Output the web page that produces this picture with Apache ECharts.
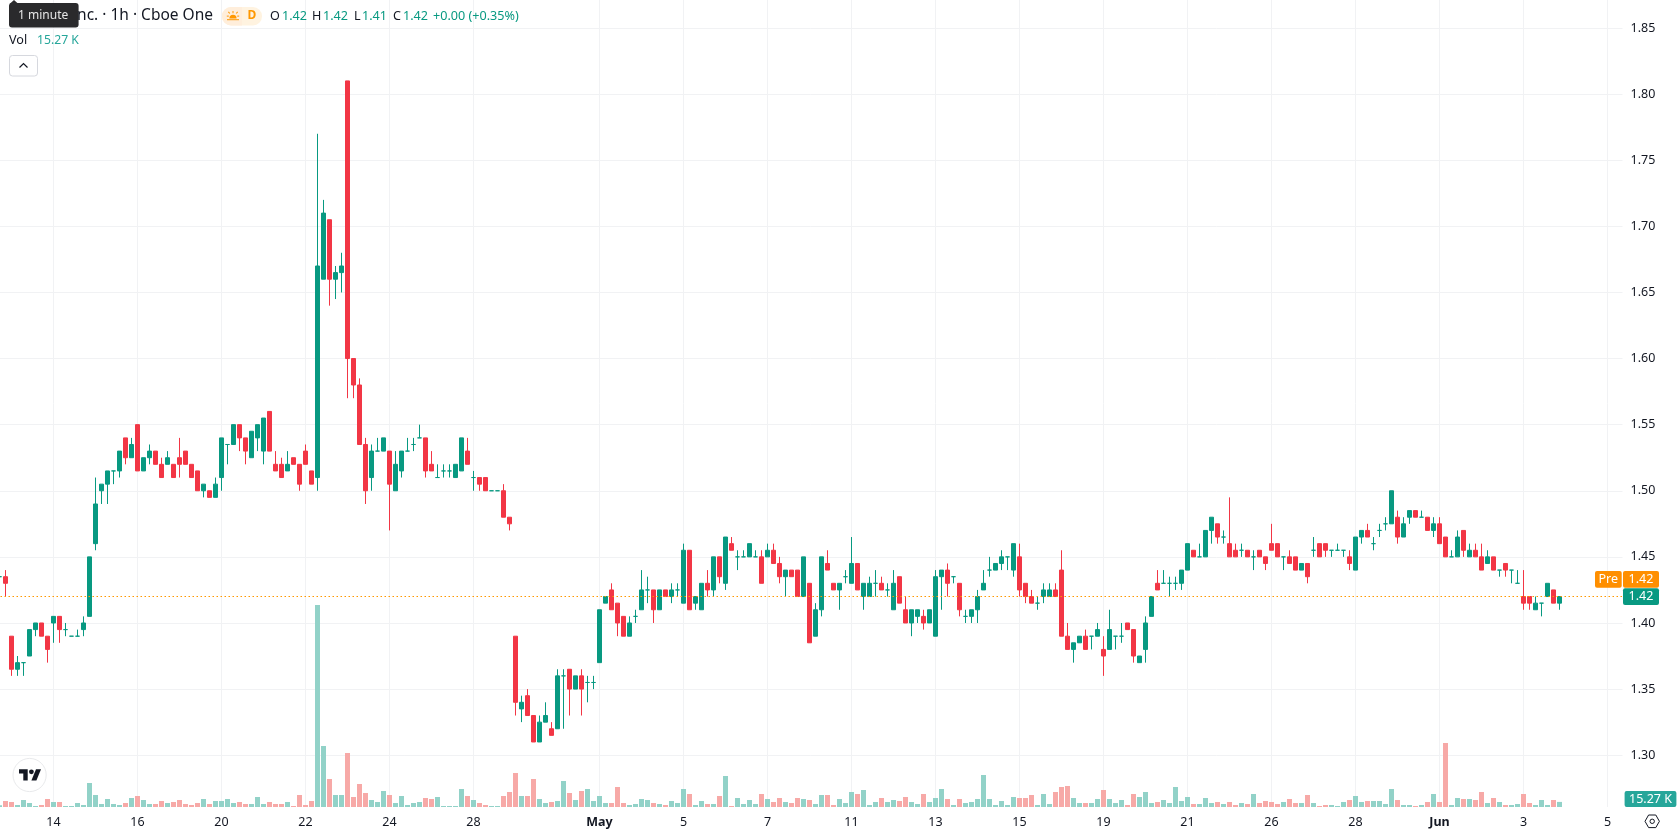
<!DOCTYPE html>
<html>
<head>
<meta charset="utf-8">
<title>1h candlestick chart</title>
<script src="https://cdn.jsdelivr.net/npm/echarts@6/dist/echarts.min.js"></script>
<style>
  html, body { margin: 0; padding: 0; background: #fff; overflow: hidden; }
  #chart { width: 1678px; height: 835px; }
</style>
</head>
<body>
<div id="chart"></div>
<script>
// Hourly bars, oldest first.
const opens = [
  1.435,1.435,1.39,1.365,1.37,1.375,1.395,1.40,1.39,1.40,
  1.405,1.395,1.39,1.39,1.395,1.405,1.46,1.50,1.505,1.515,
  1.515,1.54,1.525,1.55,1.515,1.525,1.53,1.52,1.52,1.52,
  1.525,1.53,1.52,1.515,1.50,1.50,1.495,1.51,1.535,1.535,
  1.55,1.54,1.525,1.54,1.53,1.56,1.52,1.52,1.515,1.525,
  1.52,1.53,1.515,1.51,1.66,1.705,1.66,1.665,1.81,1.60,
  1.58,1.535,1.51,1.53,1.53,1.53,1.50,1.515,1.53,1.535,
  1.54,1.54,1.52,1.51,1.515,1.515,1.51,1.515,1.53,1.51,
  1.51,1.51,1.50,1.50,1.50,1.48,1.39,1.335,1.345,1.33,
  1.31,1.325,1.32,1.32,1.36,1.365,1.35,1.36,1.355,1.355,
  1.37,1.415,1.425,1.415,1.405,1.39,1.405,1.41,1.425,1.425,
  1.41,1.425,1.42,1.425,1.415,1.455,1.415,1.41,1.43,1.425,
  1.45,1.43,1.46,1.45,1.45,1.45,1.45,1.45,1.45,1.455,
  1.445,1.435,1.44,1.44,1.42,1.43,1.39,1.41,1.445,1.43,
  1.425,1.435,1.43,1.445,1.42,1.42,1.43,1.43,1.425,1.41,
  1.435,1.41,1.40,1.405,1.405,1.40,1.39,1.435,1.44,1.435,
  1.43,1.405,1.405,1.41,1.425,1.44,1.44,1.445,1.45,1.44,
  1.45,1.43,1.42,1.415,1.42,1.42,1.425,1.44,1.39,1.38,
  1.385,1.39,1.39,1.39,1.38,1.38,1.39,1.39,1.40,1.395,
  1.37,1.38,1.405,1.43,1.43,1.43,1.43,1.43,1.44,1.455,
  1.45,1.45,1.47,1.475,1.465,1.46,1.455,1.455,1.455,1.45,
  1.455,1.45,1.46,1.46,1.45,1.45,1.45,1.44,1.445,1.455,
  1.46,1.46,1.455,1.455,1.455,1.45,1.44,1.465,1.47,1.46,
  1.47,1.475,1.475,1.48,1.465,1.48,1.485,1.48,1.48,1.47,
  1.475,1.465,1.45,1.45,1.47,1.45,1.455,1.45,1.445,1.45,
  1.44,1.445,1.44,1.43,1.42,1.42,1.41,1.415,1.42,1.425,1.415
];
const closes = [
  1.435,1.43,1.365,1.37,1.37,1.395,1.40,1.39,1.38,1.405,
  1.395,1.395,1.39,1.39,1.40,1.45,1.49,1.505,1.515,1.515,
  1.53,1.525,1.535,1.515,1.525,1.53,1.52,1.51,1.525,1.51,
  1.52,1.52,1.51,1.50,1.505,1.495,1.505,1.54,1.535,1.55,
  1.54,1.53,1.545,1.55,1.555,1.53,1.515,1.51,1.52,1.52,
  1.505,1.52,1.505,1.67,1.71,1.66,1.665,1.67,1.60,1.58,
  1.535,1.50,1.53,1.53,1.54,1.505,1.52,1.53,1.53,1.535,
  1.54,1.515,1.515,1.51,1.515,1.515,1.52,1.54,1.52,1.51,
  1.505,1.50,1.50,1.50,1.48,1.475,1.34,1.34,1.33,1.31,
  1.325,1.33,1.315,1.36,1.36,1.35,1.36,1.35,1.355,1.355,
  1.41,1.42,1.41,1.40,1.39,1.40,1.405,1.425,1.425,1.41,
  1.425,1.42,1.425,1.425,1.455,1.41,1.42,1.43,1.425,1.45,
  1.435,1.465,1.455,1.45,1.45,1.46,1.45,1.43,1.455,1.445,
  1.435,1.44,1.435,1.42,1.45,1.385,1.41,1.45,1.44,1.425,
  1.43,1.435,1.445,1.425,1.43,1.43,1.43,1.425,1.425,1.43,
  1.415,1.40,1.41,1.41,1.40,1.41,1.435,1.44,1.43,1.435,
  1.41,1.405,1.41,1.42,1.43,1.44,1.445,1.45,1.45,1.46,
  1.425,1.42,1.415,1.415,1.425,1.425,1.42,1.39,1.38,1.385,
  1.39,1.38,1.39,1.395,1.375,1.395,1.39,1.39,1.395,1.375,
  1.375,1.40,1.42,1.425,1.43,1.43,1.43,1.44,1.46,1.45,
  1.45,1.47,1.48,1.465,1.465,1.45,1.45,1.455,1.45,1.45,
  1.45,1.445,1.455,1.45,1.45,1.445,1.44,1.445,1.435,1.455,
  1.45,1.455,1.455,1.455,1.455,1.445,1.465,1.47,1.465,1.46,
  1.47,1.475,1.50,1.465,1.475,1.485,1.48,1.48,1.47,1.475,
  1.46,1.45,1.45,1.465,1.455,1.455,1.45,1.44,1.45,1.44,
  1.44,1.44,1.44,1.43,1.415,1.415,1.415,1.415,1.43,1.415,1.42
];
const highs = [
  1.435,1.44,1.39,1.375,1.37,1.395,1.40,1.40,1.39,1.405,
  1.405,1.40,1.39,1.395,1.405,1.45,1.51,1.505,1.515,1.515,
  1.53,1.54,1.54,1.55,1.525,1.535,1.53,1.525,1.53,1.52,
  1.54,1.53,1.52,1.515,1.505,1.50,1.51,1.54,1.535,1.55,
  1.55,1.54,1.545,1.55,1.555,1.56,1.53,1.525,1.53,1.525,
  1.52,1.535,1.515,1.77,1.72,1.705,1.67,1.68,1.81,1.60,
  1.585,1.54,1.535,1.54,1.54,1.53,1.53,1.53,1.54,1.54,
  1.55,1.54,1.53,1.52,1.52,1.52,1.52,1.54,1.54,1.515,
  1.51,1.51,1.50,1.50,1.505,1.48,1.39,1.345,1.35,1.33,
  1.33,1.34,1.325,1.365,1.365,1.365,1.36,1.365,1.36,1.36,
  1.41,1.42,1.43,1.415,1.405,1.405,1.41,1.44,1.435,1.425,
  1.425,1.425,1.43,1.43,1.46,1.455,1.42,1.43,1.44,1.45,
  1.45,1.465,1.465,1.455,1.455,1.46,1.455,1.455,1.46,1.46,
  1.45,1.44,1.44,1.44,1.45,1.43,1.415,1.45,1.455,1.43,
  1.43,1.44,1.465,1.445,1.43,1.435,1.44,1.435,1.43,1.44,
  1.435,1.42,1.41,1.41,1.41,1.41,1.44,1.44,1.445,1.435,
  1.43,1.41,1.41,1.425,1.44,1.45,1.445,1.455,1.45,1.46,
  1.46,1.43,1.425,1.42,1.43,1.43,1.43,1.455,1.40,1.385,
  1.39,1.395,1.39,1.40,1.39,1.41,1.39,1.40,1.40,1.395,
  1.375,1.405,1.42,1.44,1.44,1.435,1.435,1.44,1.46,1.455,
  1.46,1.47,1.48,1.475,1.47,1.495,1.46,1.46,1.455,1.455,
  1.455,1.45,1.475,1.46,1.45,1.455,1.45,1.445,1.445,1.465,
  1.46,1.46,1.455,1.46,1.455,1.455,1.465,1.47,1.475,1.465,
  1.475,1.48,1.50,1.485,1.48,1.485,1.485,1.485,1.48,1.48,
  1.48,1.465,1.455,1.47,1.47,1.46,1.46,1.46,1.455,1.45,
  1.44,1.445,1.44,1.44,1.44,1.42,1.42,1.415,1.43,1.425,1.42
];
const lows = [
  1.435,1.42,1.36,1.36,1.36,1.375,1.39,1.39,1.37,1.385,
  1.385,1.39,1.39,1.39,1.39,1.405,1.455,1.49,1.49,1.505,
  1.51,1.52,1.525,1.515,1.515,1.52,1.52,1.51,1.52,1.51,
  1.51,1.52,1.51,1.50,1.495,1.495,1.495,1.50,1.52,1.535,
  1.53,1.52,1.525,1.53,1.52,1.53,1.515,1.51,1.515,1.52,
  1.50,1.52,1.505,1.50,1.66,1.64,1.645,1.65,1.57,1.57,
  1.535,1.49,1.50,1.53,1.53,1.47,1.50,1.51,1.53,1.53,
  1.54,1.51,1.515,1.51,1.51,1.51,1.51,1.515,1.52,1.50,
  1.50,1.50,1.50,1.50,1.48,1.47,1.33,1.325,1.33,1.31,
  1.31,1.325,1.315,1.32,1.32,1.33,1.35,1.33,1.34,1.35,
  1.37,1.415,1.41,1.39,1.39,1.39,1.40,1.41,1.415,1.40,
  1.41,1.42,1.415,1.42,1.415,1.41,1.41,1.41,1.42,1.42,
  1.43,1.425,1.455,1.44,1.45,1.45,1.45,1.43,1.45,1.445,
  1.43,1.42,1.435,1.42,1.42,1.385,1.39,1.405,1.44,1.425,
  1.41,1.43,1.43,1.425,1.41,1.42,1.42,1.425,1.42,1.41,
  1.415,1.40,1.39,1.40,1.395,1.40,1.39,1.41,1.42,1.43,
  1.405,1.40,1.40,1.40,1.425,1.435,1.44,1.44,1.44,1.435,
  1.42,1.415,1.415,1.41,1.415,1.42,1.42,1.39,1.38,1.37,
  1.385,1.38,1.38,1.39,1.36,1.38,1.38,1.385,1.395,1.37,
  1.37,1.37,1.405,1.425,1.43,1.42,1.425,1.425,1.44,1.45,
  1.45,1.45,1.46,1.46,1.46,1.45,1.45,1.45,1.45,1.44,
  1.45,1.44,1.455,1.45,1.44,1.445,1.44,1.44,1.43,1.45,
  1.45,1.45,1.45,1.455,1.45,1.44,1.44,1.46,1.465,1.455,
  1.465,1.47,1.475,1.46,1.465,1.475,1.48,1.48,1.47,1.465,
  1.46,1.45,1.45,1.45,1.45,1.45,1.45,1.44,1.445,1.44,
  1.435,1.435,1.43,1.43,1.41,1.41,1.41,1.405,1.42,1.415,1.41
];
// Volume per bar, thousands of shares.
const volumes = [
  5,18,15,6,21,12,3,6,24,15,
  15,3,3,12,6,72,36,9,24,9,
  6,12,27,33,21,9,9,18,12,15,
  21,9,6,12,24,9,18,18,24,12,
  15,9,9,30,9,15,9,9,15,3,
  36,6,18,606,183,84,36,36,162,30,
  69,42,21,15,48,36,12,33,6,12,
  15,27,24,30,3,3,3,54,33,21,
  12,6,3,3,33,45,102,33,33,84,
  24,12,15,18,78,42,21,48,54,18,
  33,12,12,60,12,6,9,24,21,12,
  9,6,18,12,54,39,6,18,9,9,
  33,93,3,27,9,21,9,39,24,15,
  27,15,12,27,24,21,9,36,36,6,
  24,12,45,39,51,6,15,27,15,21,
  18,30,15,9,39,15,27,54,24,6,
  24,12,15,24,96,24,6,18,6,30,
  27,27,36,6,39,9,45,60,63,27,
  12,12,12,24,51,24,12,21,6,39,
  30,45,12,15,21,12,60,18,30,9,
  9,27,12,15,9,15,6,12,9,39,
  12,18,15,9,15,24,12,12,36,12,
  3,6,6,3,15,21,33,15,18,18,
  18,9,54,21,6,6,3,6,15,39,
  15,192,6,27,24,24,21,45,12,27,
  15,6,6,9,39,12,6,21,6,21,15.27
];
// Date labels on the time axis and the bar slot each one belongs to.
const tickLabels = ['14','16','20','22','24','28','May','5','7','11','13','15','19','21','26','28','Jun','3','5'];
const tickSlots  = [9,23,37,51,65,79,100,114,128,142,156,170,184,198,212,226,240,254,268];
const monthLabels = ['May', 'Jun'];
const slotCount = 271;
const priceTicks = { min: 1.25, max: 1.90, step: 0.05 };
const lastPrice = closes[closes.length - 1];
const prePrice = 1.42;

const UP = '#089981', DOWN = '#F23645';
const UP_SOFT = '#92d2c8', DOWN_SOFT = '#f7a9a7';
const GRID = '#f1f2f4', INK = '#131722', FONT = '"Noto Sans", sans-serif';

const categories = Array.from({ length: slotCount }, (_, i) => {
  const at = tickSlots.indexOf(i);
  return at >= 0 ? tickLabels[at] : '';
});
const isLabelled = (i, v) => v !== '';

const chart = echarts.init(document.getElementById('chart'), null, { renderer: 'canvas' });

chart.setOption({
  animation: false,
  backgroundColor: '#ffffff',
  grid: [
    { left: -3.5, width: 1626, top: -38.1, height: 859.4, containLabel: false, outerBoundsMode: 'none' },
    { left: -3.5, width: 1626, top: 0, height: 807, containLabel: false, outerBoundsMode: 'none' }
  ],
  xAxis: [
    {
      type: 'category', gridIndex: 0, data: categories, show: false,
      axisLine: { show: false }, axisTick: { show: false }, splitLine: { show: false }
    },
    {
      type: 'category', gridIndex: 1, data: categories,
      axisLine: { show: false },
      axisTick: { show: false },
      splitLine: {
        show: true, interval: isLabelled, alignWithLabel: true,
        lineStyle: { color: GRID, width: 1 }
      },
      axisLabel: {
        interval: isLabelled, margin: 9, color: INK, fontFamily: FONT, fontSize: 12.5,
        formatter: v => monthLabels.includes(v) ? '{m|' + v + '}' : v,
        rich: { m: { fontFamily: FONT, fontSize: 12.5, fontWeight: 'bold', color: INK } }
      }
    }
  ],
  yAxis: [
    {
      type: 'value', gridIndex: 0, position: 'right',
      min: priceTicks.min, max: priceTicks.max, interval: priceTicks.step,
      axisLine: { show: false }, axisTick: { show: false },
      splitLine: { show: true, showMinLine: false, showMaxLine: false, lineStyle: { color: GRID, width: 1 } },
      axisLabel: {
        margin: 8, color: INK, fontFamily: FONT, fontSize: 12.5, align: 'left',
        showMinLabel: false, showMaxLabel: false,
        formatter: v => v.toFixed(2)
      }
    },
    {
      type: 'value', gridIndex: 1, min: 0, max: 2421, show: false,
      axisLine: { show: false }, axisTick: { show: false }, splitLine: { show: false }
    }
  ],
  series: [
    {
      name: 'Vol', type: 'bar', xAxisIndex: 1, yAxisIndex: 1, barWidth: 5, z: 2, silent: true,
      data: volumes,
      itemStyle: { color: p => closes[p.dataIndex] < opens[p.dataIndex] ? DOWN_SOFT : UP_SOFT }
    },
    {
      name: 'Price', type: 'candlestick', xAxisIndex: 0, yAxisIndex: 0, barWidth: 4, z: 3, silent: true,
      clip: false,
      data: opens.map((o, i) => [o, closes[i], lows[i], highs[i]]),
      itemStyle: {
        color: UP, color0: DOWN, borderColor: UP, borderColor0: DOWN,
        borderColorDoji: UP, borderWidth: 1
      },
      markLine: {
        silent: true, symbol: 'none', animation: false,
        label: { show: false },
        lineStyle: { color: '#ff9800', width: 1, type: [1.5, 2.5], opacity: 1 },
        data: [{ yAxis: lastPrice }]
      }
    }
  ]
});

// Chart furniture: header text, price tags, logo and the settings glyph.
const txt = (text, x, y, fill, size, extra) => ({
  type: 'text', z: 20, silent: true,
  style: Object.assign({ text, x, y, fill, font: size + 'px ' + FONT, align: 'left', verticalAlign: 'middle' }, extra || {})
});
const box = (x, y, width, height, fill, r, extra) => ({
  type: 'rect', z: 19, silent: true,
  shape: { x, y, width, height, r: r || 0 },
  style: Object.assign({ fill }, extra || {})
});
const poly = (points, fill) => ({ type: 'polygon', z: 20, silent: true, shape: { points }, style: { fill } });

const yLast = chart.convertToPixel({ yAxisIndex: 0 }, lastPrice);
const yPre = chart.convertToPixel({ yAxisIndex: 0 }, prePrice);
const volBase = chart.convertToPixel({ yAxisIndex: 1 }, 0);
const fmtVol = v => v.toFixed(2) + ' K';
const lastVol = volumes[volumes.length - 1];

chart.setOption({
  graphic: [
    txt('nc. · 1h · Cboe One', 213, 16, INK, 15.5, { align: 'right' }),
    box(9, 3, 69.6, 24.5, '#2a2a2c', 3, {}),
    { type: 'polygon', z: 19, silent: true, shape: { points: [[9.5, 4], [14, 0], [18.5, 4]] }, style: { fill: '#2a2a2c' } },
    Object.assign(txt('1 minute', 18, 15.5, '#e6e6e6', 12), { z: 21 }),

    box(222, 7, 40, 18.5, '#fff3e0', [9, 9, 9, 9]),
    box(222, 7, 20, 18.5, '#ffeedb', [9, 0, 0, 9]),
    // Pre-market sun glyph
    { type: 'sector', z: 20, silent: true, shape: { cx: 233, cy: 18.4, r: 3.6, r0: 0, startAngle: Math.PI, endAngle: 2 * Math.PI }, style: { fill: '#ff9800' } },
    Object.assign(box(227, 19.2, 12, 1, '#ff9800'), { z: 20 }),
    Object.assign(box(232.5, 11, 1, 2.2, '#ff9800'), { z: 20 }),
    Object.assign(box(226.8, 15.6, 2, 1, '#ff9800'), { z: 20 }),
    Object.assign(box(237.2, 15.6, 2, 1, '#ff9800'), { z: 20 }),
    poly([[228, 12.2], [228.8, 11.6], [230.2, 13.2], [229.4, 13.8]], '#ff9800'),
    poly([[238, 12.2], [237.2, 11.6], [235.8, 13.2], [236.6, 13.8]], '#ff9800'),
    txt('D', 247.5, 16, '#ff9800', 12, { font: 'bold 12px ' + FONT }),

    txt('O', 270, 16, INK, 12.6), txt('1.42', 282, 16, UP, 12.6),
    txt('H', 312, 16, INK, 12.6), txt('1.42', 323, 16, UP, 12.6),
    txt('L', 354, 16, INK, 12.6), txt('1.41', 362, 16, UP, 12.6),
    txt('C', 393, 16, INK, 12.6), txt('1.42', 403, 16, UP, 12.6),
    txt('+0.00 (+0.35%)', 433, 16, UP, 12.6),

    txt('Vol', 9, 40.5, INK, 12.6),
    txt(fmtVol(lastVol), 37, 40.5, '#26a69a', 12.2),

    box(9.5, 55.5, 28, 20.5, '#ffffff', 3, { stroke: '#d6d8de', lineWidth: 1 }),
    {
      type: 'polyline', z: 20, silent: true,
      shape: { points: [[19.5, 67.5], [23.5, 63.5], [27.5, 67.5]] },
      style: { stroke: INK, lineWidth: 1.2, fill: null }
    },

    // Price tags
    box(1595, yPre - 25.5, 26.7, 16.7, '#ff8f00', 2),
    txt('Pre', 1608.3, yPre - 17, '#ffffff', 12.5, { align: 'center' }),
    box(1623, yPre - 25.5, 36, 16.7, '#ff8f00', 2),
    txt(prePrice.toFixed(2), 1641, yPre - 17, '#ffffff', 12.5, { align: 'center' }),
    box(1623, yLast - 8.3, 36, 16.7, UP, 2),
    txt(lastPrice.toFixed(2), 1641, yLast, '#ffffff', 12.5, { align: 'center' }),
    box(1624.6, volBase - 16, 51.8, 16, '#26a69a', 2),
    txt(fmtVol(lastVol), 1650.5, volBase - 8, '#ffffff', 12.5, { align: 'center' }),

    // Logo badge
    { type: 'circle', z: 19, silent: true, shape: { cx: 29.6, cy: 775, r: 16.6 }, style: { fill: '#ffffff', stroke: '#e9eaec', lineWidth: 1 } },
    poly([[19, 769.3], [27.7, 769.3], [27.7, 780.5], [23.3, 780.5], [23.3, 773.6], [19, 773.6]], INK),
    poly([[36, 769.3], [41, 769.3], [36.4, 780.5], [31.4, 780.5]], INK),
    { type: 'circle', z: 20, silent: true, shape: { cx: 31.4, cy: 771.8, r: 2.4 }, style: { fill: INK } },

    // Settings glyph
    {
      type: 'polygon', z: 20, silent: true,
      shape: { points: [[1645, 821.3], [1648.6, 815], [1655.8, 815], [1659.4, 821.3], [1655.8, 827.6], [1648.6, 827.6]] },
      style: { fill: null, stroke: INK, lineWidth: 1 }
    },
    { type: 'circle', z: 20, silent: true, shape: { cx: 1652.2, cy: 821.3, r: 2.2 }, style: { fill: null, stroke: INK, lineWidth: 1 } }
  ]
});
</script>
</body>
</html>
